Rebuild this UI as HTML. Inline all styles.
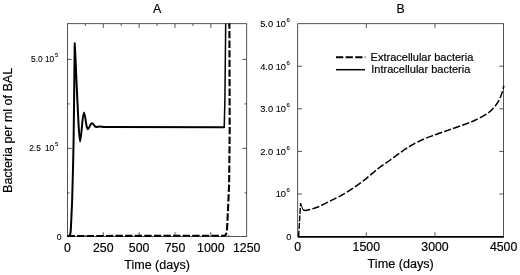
<!DOCTYPE html>
<html><head><meta charset="utf-8"><title>Figure</title>
<style>
html,body{margin:0;padding:0;background:#fff;}
svg{display:block}
text{font-family:"Liberation Sans",sans-serif;fill:#000;stroke:#000;stroke-width:0.18px;}
text.s{stroke-width:0.1px;}
</style></head><body>
<svg width="520" height="275" viewBox="0 0 520 275">
<rect width="520" height="275" fill="#fff"/>
<rect x="67.4" y="23.7" width="179.29999999999998" height="212.8" fill="none" stroke="#2a2a2a" stroke-width="0.8"/>
<rect x="297.7" y="23.7" width="205.90000000000003" height="212.9" fill="none" stroke="#2a2a2a" stroke-width="0.8"/>
<line x1="85.33" y1="23.70" x2="85.33" y2="25.85" stroke="#2a2a2a" stroke-width="0.8"/>
<line x1="85.33" y1="236.50" x2="85.33" y2="235.00" stroke="#2a2a2a" stroke-width="0.8"/>
<line x1="103.26" y1="23.70" x2="103.26" y2="28.00" stroke="#2a2a2a" stroke-width="0.8"/>
<line x1="103.26" y1="236.50" x2="103.26" y2="232.20" stroke="#2a2a2a" stroke-width="0.8"/>
<line x1="121.19" y1="23.70" x2="121.19" y2="25.85" stroke="#2a2a2a" stroke-width="0.8"/>
<line x1="121.19" y1="236.50" x2="121.19" y2="235.00" stroke="#2a2a2a" stroke-width="0.8"/>
<line x1="139.12" y1="23.70" x2="139.12" y2="28.00" stroke="#2a2a2a" stroke-width="0.8"/>
<line x1="139.12" y1="236.50" x2="139.12" y2="232.20" stroke="#2a2a2a" stroke-width="0.8"/>
<line x1="157.05" y1="23.70" x2="157.05" y2="25.85" stroke="#2a2a2a" stroke-width="0.8"/>
<line x1="157.05" y1="236.50" x2="157.05" y2="235.00" stroke="#2a2a2a" stroke-width="0.8"/>
<line x1="174.98" y1="23.70" x2="174.98" y2="28.00" stroke="#2a2a2a" stroke-width="0.8"/>
<line x1="174.98" y1="236.50" x2="174.98" y2="232.20" stroke="#2a2a2a" stroke-width="0.8"/>
<line x1="192.91" y1="23.70" x2="192.91" y2="25.85" stroke="#2a2a2a" stroke-width="0.8"/>
<line x1="192.91" y1="236.50" x2="192.91" y2="235.00" stroke="#2a2a2a" stroke-width="0.8"/>
<line x1="210.84" y1="23.70" x2="210.84" y2="28.00" stroke="#2a2a2a" stroke-width="0.8"/>
<line x1="210.84" y1="236.50" x2="210.84" y2="232.20" stroke="#2a2a2a" stroke-width="0.8"/>
<line x1="228.77" y1="23.70" x2="228.77" y2="25.85" stroke="#2a2a2a" stroke-width="0.8"/>
<line x1="228.77" y1="236.50" x2="228.77" y2="235.00" stroke="#2a2a2a" stroke-width="0.8"/>
<line x1="67.40" y1="192.90" x2="69.55" y2="192.90" stroke="#2a2a2a" stroke-width="0.8"/>
<line x1="246.70" y1="192.90" x2="244.55" y2="192.90" stroke="#2a2a2a" stroke-width="0.8"/>
<line x1="67.40" y1="148.40" x2="71.70" y2="148.40" stroke="#2a2a2a" stroke-width="0.8"/>
<line x1="246.70" y1="148.40" x2="242.40" y2="148.40" stroke="#2a2a2a" stroke-width="0.8"/>
<line x1="67.40" y1="103.90" x2="69.55" y2="103.90" stroke="#2a2a2a" stroke-width="0.8"/>
<line x1="246.70" y1="103.90" x2="244.55" y2="103.90" stroke="#2a2a2a" stroke-width="0.8"/>
<line x1="67.40" y1="59.40" x2="71.70" y2="59.40" stroke="#2a2a2a" stroke-width="0.8"/>
<line x1="246.70" y1="59.40" x2="242.40" y2="59.40" stroke="#2a2a2a" stroke-width="0.8"/>
<line x1="366.33" y1="23.70" x2="366.33" y2="28.00" stroke="#2a2a2a" stroke-width="0.8"/>
<line x1="366.33" y1="236.60" x2="366.33" y2="232.30" stroke="#2a2a2a" stroke-width="0.8"/>
<line x1="434.97" y1="23.70" x2="434.97" y2="28.00" stroke="#2a2a2a" stroke-width="0.8"/>
<line x1="434.97" y1="236.60" x2="434.97" y2="232.30" stroke="#2a2a2a" stroke-width="0.8"/>
<line x1="297.70" y1="194.00" x2="302.00" y2="194.00" stroke="#2a2a2a" stroke-width="0.8"/>
<line x1="503.60" y1="194.00" x2="499.30" y2="194.00" stroke="#2a2a2a" stroke-width="0.8"/>
<line x1="297.70" y1="151.40" x2="302.00" y2="151.40" stroke="#2a2a2a" stroke-width="0.8"/>
<line x1="503.60" y1="151.40" x2="499.30" y2="151.40" stroke="#2a2a2a" stroke-width="0.8"/>
<line x1="297.70" y1="108.80" x2="302.00" y2="108.80" stroke="#2a2a2a" stroke-width="0.8"/>
<line x1="503.60" y1="108.80" x2="499.30" y2="108.80" stroke="#2a2a2a" stroke-width="0.8"/>
<line x1="297.70" y1="66.20" x2="302.00" y2="66.20" stroke="#2a2a2a" stroke-width="0.8"/>
<line x1="503.60" y1="66.20" x2="499.30" y2="66.20" stroke="#2a2a2a" stroke-width="0.8"/>
<path d="M67.5,236.3 L69.20,236.00 L69.90,235.20 L70.30,233.80 L70.70,231.00 L71.00,226.00 L71.50,215.00 L72.10,202.00 L72.70,180.00 L73.20,160.00 L73.60,140.00 L74.10,100.00 L74.50,60.00 L74.70,43.30 L75.3,54 L77.2,97 L78.6,125 C79.3,137 79.7,141.5 80.1,141.5 C80.6,141.5 81.3,134 82,126 C82.8,117 83.4,112.5 84,112.5 C84.7,112.5 85.5,119 86.2,124 C86.9,128 87.5,129.3 88,129.3 C88.8,129.3 90.5,123.2 92,123.2 C93.5,123.2 94.5,127 96,127 C97.5,127 98.5,126.4 100,126.4 C101.5,126.4 102.5,127 104,127 L110,127 L224.2,127.3" fill="none" stroke="#000" stroke-width="2" stroke-linejoin="round"/>
<path d="M224.2,128 L224.9,100 L225.7,23.6" fill="none" stroke="#000" stroke-width="1.5"/>
<path d="M67.5,236 L224.2,235.7 C226.2,235.6 226.8,233 227.2,226 L228.2,205 L229.1,185 L229.7,130 L229.4,23.6" fill="none" stroke="#000" stroke-width="2.1" stroke-dasharray="7.3 2.3" stroke-linejoin="round"/>
<path d="M298.6,236.6 L299.3,225 L300.6,203.2" fill="none" stroke="#000" stroke-width="1.4" stroke-dasharray="6 1.6"/>
<path d="M300.6,203.2 L303.1,210.1" fill="none" stroke="#000" stroke-width="1"/>
<path d="M303.1,210.1 C303.5,210.2 304.6,210.4 305.6,210.4 C306.6,210.4 306.8,210.4 309.0,209.8 C311.2,209.2 315.0,208.2 318.6,206.7 C322.2,205.2 326.6,202.8 330.5,200.8 C334.4,198.8 338.4,197.1 342.3,194.9 C346.2,192.7 350.2,190.1 354.1,187.4 C358.0,184.7 362.0,181.9 365.9,178.8 C369.8,175.7 373.8,172.0 377.7,168.9 C381.6,165.8 385.6,163.4 389.6,160.5 C393.6,157.6 398.0,154.2 401.8,151.6 C405.6,148.9 409.1,146.7 412.7,144.6 C416.3,142.5 420.0,140.8 423.6,139.2 C427.2,137.6 431.0,136.3 434.5,135.0 C438.0,133.7 441.6,132.5 444.5,131.5 C447.4,130.5 448.6,130.1 451.8,129.0 C455.0,127.9 459.8,126.2 463.7,124.7 C467.6,123.2 471.6,121.8 475.5,120.0 C479.4,118.2 484.2,115.8 487.3,113.6 C490.4,111.4 492.4,109.3 494.4,107.0 C496.4,104.7 497.9,102.3 499.2,99.9 C500.5,97.5 501.2,95.1 502.0,92.8 C502.8,90.4 503.6,86.9 503.9,85.7" fill="none" stroke="#000" stroke-width="1.5" stroke-dasharray="7.3 2.3"/>
<path d="M297.7,236.8 L504,236.8" fill="none" stroke="#000" stroke-width="1.7"/>
<path d="M336,57.3 L365.4,57.3" fill="none" stroke="#000" stroke-width="2.1" stroke-dasharray="7.3 2.3"/>
<path d="M336,69.7 L365,69.7" fill="none" stroke="#000" stroke-width="1.5"/>
<text x="370.6" y="60.8" font-size="11" text-anchor="start" >Extracellular bacteria</text>
<text x="371.3" y="73.2" font-size="11" text-anchor="start" >Intracellular bacteria</text>
<text x="157.1" y="12.9" font-size="12.4" text-anchor="middle" >A</text>
<text x="400.6" y="12.8" font-size="12.2" text-anchor="middle" >B</text>
<text x="67.4" y="252" font-size="12.3" text-anchor="middle" >0</text>
<text x="103.3" y="252" font-size="12.3" text-anchor="middle" >250</text>
<text x="139.1" y="252" font-size="12.3" text-anchor="middle" >500</text>
<text x="175.0" y="252" font-size="12.3" text-anchor="middle" >750</text>
<text x="210.8" y="252" font-size="12.3" text-anchor="middle" >1000</text>
<text x="246.7" y="252" font-size="12.3" text-anchor="middle" >1250</text>
<text x="297.7" y="251.2" font-size="12.3" text-anchor="middle" >0</text>
<text x="366.3" y="251.2" font-size="12.3" text-anchor="middle" >1500</text>
<text x="435.0" y="251.2" font-size="12.3" text-anchor="middle" >3000</text>
<text x="503.6" y="251.2" font-size="12.3" text-anchor="middle" >4500</text>
<text x="157.1" y="269" font-size="12.5" text-anchor="middle" textLength="65.6" lengthAdjust="spacingAndGlyphs">Time (days)</text>
<text x="400.7" y="268.2" font-size="12.5" text-anchor="middle" textLength="66.2" lengthAdjust="spacingAndGlyphs">Time (days)</text>
<text transform="translate(11.5,130.4) rotate(-90)" font-size="12.5" text-anchor="middle">Bacteria per ml of BAL</text>
<text x="54.2" y="62.4" font-size="8.3" text-anchor="end" xml:space="preserve" class="s">5.0 10</text><text x="54.9" y="57.4" font-size="5.8" text-anchor="start" class="s">5</text>
<text x="54.2" y="151.4" font-size="8.3" text-anchor="end" xml:space="preserve" class="s">10</text><text x="54.9" y="146.4" font-size="5.8" text-anchor="start" class="s">5</text>
<text x="40.8" y="151.4" font-size="8.3" text-anchor="end" class="s">2.5</text>
<text x="61.5" y="240.2" font-size="8.6" text-anchor="end" class="s">0</text>
<text x="286" y="26.9" font-size="9.3" text-anchor="end" xml:space="preserve" class="s">5.0 10</text><text x="286.4" y="21.9" font-size="6" text-anchor="start" class="s">6</text>
<text x="286" y="69.5" font-size="9.3" text-anchor="end" xml:space="preserve" class="s">4.0 10</text><text x="286.4" y="64.5" font-size="6" text-anchor="start" class="s">6</text>
<text x="286" y="112.1" font-size="9.3" text-anchor="end" xml:space="preserve" class="s">3.0 10</text><text x="286.4" y="107.1" font-size="6" text-anchor="start" class="s">6</text>
<text x="286" y="154.7" font-size="9.3" text-anchor="end" xml:space="preserve" class="s">2.0 10</text><text x="286.4" y="149.7" font-size="6" text-anchor="start" class="s">6</text>
<text x="286" y="197.3" font-size="9.3" text-anchor="end" xml:space="preserve" class="s">10</text><text x="286.4" y="192.3" font-size="6" text-anchor="start" class="s">6</text>
<text x="291.4" y="240.4" font-size="9.3" text-anchor="end" class="s">0</text>
</svg>
</body></html>
